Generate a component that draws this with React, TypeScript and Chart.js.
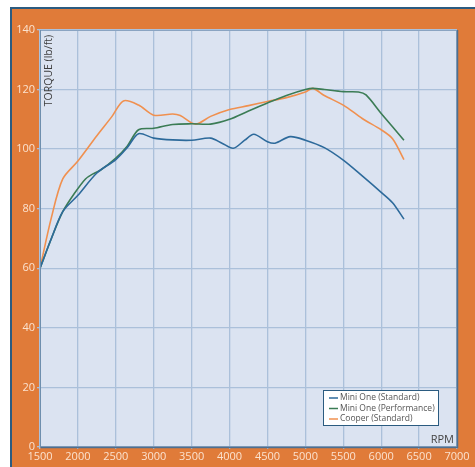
import React, { useEffect, useRef } from "react";
import { Chart, registerables } from "chart.js";

Chart.register(...registerables);

// ---- data ----
const seriesLabels = ["Mini One (Standard)", "Mini One (Performance)", "Cooper (Standard)"];

const rpmMiniStd = [1500, 1650, 1800, 2000, 2250, 2500, 2650, 2800, 3000, 3250, 3500, 3750, 3900, 4050, 4200, 4320, 4500, 4600, 4800, 5000, 5250, 5500, 5750, 6000, 6150, 6300];
const torqueMiniStd = [60, 70, 79, 84.5, 92, 96.5, 100.5, 105.2, 103.7, 103.1, 103, 103.7, 102, 100.3, 103, 105, 102.5, 102, 104.2, 103, 100.5, 96.3, 91, 85.5, 82, 76.5];

const rpmMiniPerf = [1500, 1650, 1800, 1950, 2100, 2200, 2300, 2500, 2650, 2800, 3000, 3250, 3500, 3750, 4000, 4250, 4500, 4750, 5000, 5100, 5250, 5500, 5700, 5800, 6000, 6300];
const torqueMiniPerf = [60, 70, 79, 85, 90, 91.7, 93, 97, 101, 106.5, 107, 108.3, 108.5, 108.4, 110, 112.8, 115.5, 118, 120, 120.4, 120, 119.3, 119.2, 118.2, 112, 103];

const rpmCooper = [1500, 1650, 1800, 2000, 2250, 2450, 2600, 2800, 3000, 3250, 3350, 3550, 3750, 4000, 4250, 4500, 4750, 5000, 5100, 5250, 5500, 5750, 6000, 6150, 6300];
const torqueCooper = [60, 77, 90, 96, 104.5, 111, 116.2, 114.8, 111.4, 111.8, 111.3, 108.4, 111, 113.3, 114.6, 116, 117.3, 119.2, 120.4, 118, 114.8, 110.3, 106.5, 103.5, 96.5];

const seriesColors = ["#2d6a9b", "#3b7c55", "#f0904f"];

const xMin = 1500, xMax = 7000, xStep = 500;
const yMin = 0, yMax = 140, yStep = 20;
const yTitle = "TORQUE (lb/ft)";
const xTitle = "RPM";

const toPoints = (xs: number[], ys: number[]) => xs.map((x, i) => ({ x, y: ys[i] }));

const FONT = "'Open Sans', 'DejaVu Sans', sans-serif";

const framePlugin = {
  id: "frame",
  beforeDraw(chart: any) {
    const { ctx, width, height, chartArea } = chart;
    ctx.save();
    ctx.fillStyle = "#ffffff";
    ctx.fillRect(0, 0, width, height);
    // dark outline
    ctx.fillStyle = "#2b5b80";
    ctx.fillRect(10, 7, width - 10, height - 7);
    // orange panel
    ctx.fillStyle = "#e07b39";
    ctx.fillRect(12, 9, width - 12, height - 9);
    // plot bg
    ctx.fillStyle = "#dbe3f1";
    ctx.fillRect(chartArea.left, chartArea.top, chartArea.right - chartArea.left, chartArea.bottom - chartArea.top);
    ctx.restore();
  },
  afterDraw(chart: any) {
    const { ctx, chartArea } = chart;
    const { left, right, top, bottom } = chartArea;
    ctx.save();
    // plot border
    ctx.strokeStyle = "#8aa4c2";
    ctx.lineWidth = 1;
    ctx.strokeRect(left + 0.5, top + 0.5, right - left - 1, bottom - top - 1);
    ctx.strokeStyle = "#4f6f8f";
    ctx.lineWidth = 1.5;
    ctx.beginPath();
    ctx.moveTo(left + 0.5, bottom + 0.5);
    ctx.lineTo(right + 0.5, bottom + 0.5);
    ctx.lineTo(right + 0.5, top);
    ctx.stroke();
    ctx.strokeStyle = "#6f8fae";
    ctx.lineWidth = 1;
    ctx.beginPath();
    ctx.moveTo(left + 0.5, top);
    ctx.lineTo(left + 0.5, bottom);
    ctx.stroke();

    // y title (rotated, inside plot)
    ctx.fillStyle = "#3c3c3c";
    ctx.font = `10.5px ${FONT}`;
    ctx.translate(left + 9, top + 5);
    ctx.rotate(-Math.PI / 2);
    ctx.textAlign = "right";
    ctx.textBaseline = "middle";
    ctx.fillText(yTitle, 0, 0);
    ctx.setTransform(1, 0, 0, 1, 0, 0);

    // x title
    ctx.fillStyle = "#444444";
    ctx.font = `11px ${FONT}`;
    ctx.textAlign = "right";
    ctx.textBaseline = "middle";
    ctx.fillText(xTitle, right - 3, bottom - 7);

    // legend
    const lx = 323, ly = 390, lw = 116, lh = 36;
    ctx.fillStyle = "#ffffff";
    ctx.fillRect(lx, ly, lw, lh);
    ctx.strokeStyle = "#2b5b80";
    ctx.lineWidth = 1;
    ctx.strokeRect(lx + 0.5, ly + 0.5, lw - 1, lh - 1);
    ctx.font = `8.5px ${FONT}`;
    ctx.textAlign = "left";
    ctx.textBaseline = "middle";
    chart.data.datasets.forEach((ds: any, i: number) => {
      const yy = ly + 8 + i * 10.5;
      ctx.strokeStyle = ds.borderColor;
      ctx.lineWidth = 1.5;
      ctx.beginPath();
      ctx.moveTo(lx + 6, yy);
      ctx.lineTo(lx + 15, yy);
      ctx.stroke();
      ctx.fillStyle = "#555555";
      ctx.fillText(ds.label, lx + 17, yy);
    });
    ctx.restore();
  },
};

export default function App() {
  const ref = useRef<HTMLCanvasElement | null>(null);
  useEffect(() => {
    if (!ref.current) return;
    const seriesData = [
      toPoints(rpmMiniStd, torqueMiniStd),
      toPoints(rpmMiniPerf, torqueMiniPerf),
      toPoints(rpmCooper, torqueCooper),
    ];
    const chart = new Chart(ref.current, {
      type: "line",
      data: {
        datasets: seriesLabels.map((label, i) => ({
          label,
          data: seriesData[i],
          borderColor: seriesColors[i],
          backgroundColor: seriesColors[i],
          borderWidth: 1.6,
          pointRadius: 0,
          tension: 0.3,
          fill: false,
        })),
      },
      options: {
        responsive: false,
        animation: false,
        devicePixelRatio: 1,
        layout: { padding: { left: 0, top: 30, right: 18, bottom: 0 } },
        plugins: { legend: { display: false }, tooltip: { enabled: false }, title: { display: false } },
        scales: {
          x: {
            type: "linear",
            min: xMin,
            max: xMax,
            ticks: {
              stepSize: xStep,
              color: "#fbe2cf",
              font: { family: FONT, size: 11 },
              padding: 1,
              maxRotation: 0,
              autoSkip: false,
              callback: (v: any) => String(v),
            },
            grid: { color: "#abc0da", lineWidth: 1.3, tickLength: 2, drawTicks: true },
            border: { display: false },
            afterFit: (s: any) => { s.height = 20; },
          },
          y: {
            min: yMin,
            max: yMax,
            ticks: {
              stepSize: yStep,
              color: "#fbe2cf",
              font: { family: FONT, size: 11 },
              padding: 2,
            },
            grid: { color: "#abc0da", lineWidth: 1.3, tickLength: 3, drawTicks: true },
            border: { display: false },
            afterFit: (s: any) => { s.width = 40; },
          },
        },
      },
      plugins: [framePlugin],
    } as any);
    return () => chart.destroy();
  }, []);
  return (
    <div style={{ position: "absolute", left: 0, top: 0, width: 475, height: 467 }}>
      <canvas ref={ref} width={475} height={467} style={{ display: "block", width: 475, height: 467 }} />
    </div>
  );
}
